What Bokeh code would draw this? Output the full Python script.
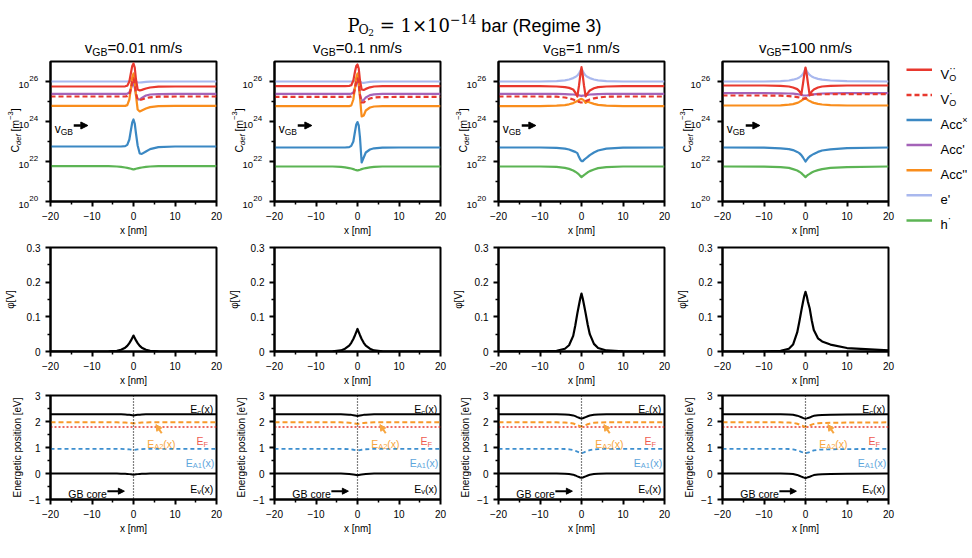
import math
from bokeh.plotting import figure
from bokeh.layouts import column, row
from bokeh.models import (Range1d, FixedTicker, CustomJSTickFormatter, Span, Arrow,
                          NormalHead, LogScale, Plot)
from bokeh.core.properties import value
from bokeh.embed import file_html
from bokeh.resources import INLINE

SANS = "Liberation Sans"
SERIF = "DejaVu Serif"

# ---------------------------------------------------------------- data
velocity_labels = ["0.01", "0.1", "1", "100"]

# position across the grain boundary [nm]
x_nm = [-20, -10, -6, -4, -3, -2, -1.5, -1, -0.6, -0.3, 0,
        0.3, 0.6, 1, 1.5, 2, 3, 4, 6, 10, 20]

# decades labelled on the concentration axis
conc_decades = [20, 22, 24, 26]

# log10 of defect concentrations [m^-3], one row per boundary velocity
log_vo_2 = [
    [25.75, 25.75, 25.75, 25.75, 25.75, 25.76, 25.79, 26.0, 26.45, 26.78, 26.9, 26.7, 26.1, 25.6, 25.55, 25.58, 25.65, 25.7, 25.74, 25.75, 25.75],
    [25.77, 25.77, 25.77, 25.77, 25.77, 25.78, 25.81, 26.05, 26.5, 26.78, 26.85, 26.65, 26.05, 25.6, 25.58, 25.63, 25.71, 25.75, 25.77, 25.77, 25.77],
    [25.77, 25.77, 25.75, 25.72, 25.68, 25.6, 25.45, 25.25, 25.8, 26.3, 26.72, 26.3, 25.8, 25.25, 25.42, 25.55, 25.66, 25.72, 25.75, 25.77, 25.77],
    [25.8, 25.8, 25.78, 25.75, 25.7, 25.62, 25.52, 25.35, 25.9, 26.35, 26.7, 26.35, 25.9, 25.32, 25.5, 25.6, 25.7, 25.75, 25.78, 25.8, 25.8],
]
log_vo_1 = [
    [25.25, 25.25, 25.25, 25.25, 25.25, 25.25, 25.27, 25.35, 25.65, 26.0, 26.15, 25.9, 25.4, 25.1, 25.07, 25.1, 25.17, 25.21, 25.24, 25.25, 25.25],
    [25.23, 25.23, 25.23, 25.23, 25.23, 25.23, 25.25, 25.35, 25.65, 26.0, 26.15, 25.9, 25.3, 24.95, 24.95, 25.05, 25.15, 25.2, 25.22, 25.23, 25.23],
    [25.25, 25.25, 25.24, 25.2, 25.16, 25.1, 25.06, 25.02, 24.98, 24.96, 24.95, 24.96, 24.98, 25.02, 25.06, 25.1, 25.16, 25.2, 25.24, 25.25, 25.25],
    [25.3, 25.3, 25.29, 25.27, 25.25, 25.22, 25.2, 25.17, 25.15, 25.14, 25.14, 25.2, 25.28, 25.32, 25.34, 25.35, 25.36, 25.36, 25.37, 25.37, 25.37],
]
log_acc_x = [
    [22.75, 22.75, 22.75, 22.75, 22.75, 22.77, 22.83, 23.1, 23.6, 23.95, 24.1, 23.9, 23.4, 22.8, 22.4, 22.38, 22.5, 22.62, 22.72, 22.75, 22.75],
    [22.7, 22.7, 22.7, 22.7, 22.7, 22.72, 22.78, 23.0, 23.5, 23.85, 23.97, 23.8, 23.2, 21.95, 22.2, 22.45, 22.6, 22.66, 22.69, 22.7, 22.7],
    [22.7, 22.7, 22.68, 22.64, 22.6, 22.52, 22.48, 22.42, 22.22, 22.1, 22.02, 22.02, 22.08, 22.15, 22.23, 22.32, 22.45, 22.55, 22.64, 22.69, 22.7],
    [22.7, 22.69, 22.66, 22.62, 22.57, 22.48, 22.42, 22.32, 22.2, 22.1, 22.0, 22.08, 22.17, 22.25, 22.32, 22.38, 22.48, 22.55, 22.61, 22.67, 22.7],
]
log_acc_1 = [
    [25.38, 25.38, 25.38, 25.38, 25.38, 25.38, 25.39, 25.45, 25.65, 25.85, 25.9, 25.7, 25.35, 25.1, 25.1, 25.18, 25.3, 25.35, 25.37, 25.38, 25.38],
    [25.38, 25.38, 25.38, 25.38, 25.38, 25.38, 25.39, 25.45, 25.7, 25.95, 26.0, 25.8, 25.35, 25.02, 25.08, 25.2, 25.32, 25.36, 25.38, 25.38, 25.38],
    [25.38, 25.38, 25.38, 25.37, 25.36, 25.35, 25.34, 25.33, 25.31, 25.29, 25.28, 25.29, 25.3, 25.32, 25.33, 25.35, 25.36, 25.37, 25.38, 25.38, 25.38],
    [25.42, 25.42, 25.41, 25.4, 25.39, 25.37, 25.35, 25.33, 25.31, 25.3, 25.3, 25.3, 25.31, 25.32, 25.34, 25.36, 25.38, 25.4, 25.41, 25.42, 25.42],
]
log_acc_2 = [
    [24.78, 24.78, 24.78, 24.78, 24.78, 24.78, 24.82, 25.1, 25.7, 26.2, 26.4, 26.0, 25.3, 24.6, 24.5, 24.55, 24.65, 24.72, 24.77, 24.78, 24.78],
    [24.77, 24.77, 24.77, 24.77, 24.77, 24.77, 24.8, 25.1, 25.7, 26.2, 26.4, 26.0, 25.2, 24.25, 24.3, 24.55, 24.7, 24.75, 24.77, 24.77, 24.77],
    [24.77, 24.77, 24.79, 24.82, 24.86, 24.92, 24.97, 25.02, 25.08, 25.11, 25.13, 25.1, 25.05, 24.93, 25.0, 24.95, 24.88, 24.83, 24.79, 24.77, 24.77],
    [24.8, 24.8, 24.81, 24.84, 24.87, 24.93, 24.98, 25.04, 25.1, 25.14, 25.18, 25.12, 25.07, 25.02, 24.97, 24.93, 24.88, 24.85, 24.82, 24.8, 24.8],
]
log_e = [
    [26.0, 26.0, 26.0, 26.0, 26.0, 26.0, 26.0, 26.02, 26.05, 26.09, 26.12, 26.08, 26.0, 25.96, 25.95, 25.96, 25.98, 25.99, 26.0, 26.0, 26.0],
    [26.0, 26.0, 26.0, 26.0, 26.0, 26.0, 26.0, 26.02, 26.05, 26.09, 26.13, 26.08, 26.0, 25.94, 25.93, 25.95, 25.98, 25.99, 26.0, 26.0, 26.0],
    [26.0, 26.0, 26.02, 26.06, 26.1, 26.17, 26.22, 26.3, 26.4, 26.52, 26.63, 26.52, 26.4, 26.3, 26.22, 26.17, 26.1, 26.06, 26.02, 26.0, 26.0],
    [26.0, 26.0, 26.02, 26.05, 26.09, 26.15, 26.2, 26.28, 26.38, 26.5, 26.65, 26.52, 26.42, 26.33, 26.25, 26.2, 26.13, 26.09, 26.05, 26.02, 26.0],
]
log_h = [
    [21.77, 21.77, 21.77, 21.75, 21.73, 21.7, 21.68, 21.66, 21.64, 21.62, 21.6, 21.62, 21.64, 21.66, 21.68, 21.7, 21.73, 21.75, 21.77, 21.77, 21.77],
    [21.75, 21.75, 21.75, 21.73, 21.71, 21.67, 21.65, 21.62, 21.59, 21.57, 21.55, 21.57, 21.59, 21.62, 21.65, 21.67, 21.71, 21.73, 21.75, 21.75, 21.75],
    [21.75, 21.75, 21.73, 21.68, 21.63, 21.55, 21.49, 21.42, 21.35, 21.28, 21.22, 21.27, 21.32, 21.38, 21.46, 21.52, 21.6, 21.67, 21.72, 21.75, 21.75],
    [21.75, 21.74, 21.72, 21.68, 21.62, 21.55, 21.49, 21.42, 21.34, 21.28, 21.22, 21.28, 21.33, 21.38, 21.45, 21.5, 21.57, 21.62, 21.68, 21.72, 21.75],
]

# electrostatic potential [V]
phi = [
    [0, 0, 0.0005, 0.002, 0.005, 0.011, 0.016, 0.024, 0.032, 0.039, 0.046, 0.039, 0.032, 0.024, 0.016, 0.011, 0.005, 0.002, 0.0005, 0, 0],
    [0, 0, 0.0007, 0.003, 0.008, 0.017, 0.025, 0.036, 0.047, 0.056, 0.065, 0.056, 0.047, 0.036, 0.025, 0.017, 0.008, 0.003, 0.0007, 0, 0],
    [0, 0.0005, 0.002, 0.008, 0.018, 0.045, 0.075, 0.11, 0.135, 0.153, 0.167, 0.153, 0.135, 0.11, 0.077, 0.05, 0.022, 0.01, 0.003, 0.0005, 0],
    [0, 0.0003, 0.002, 0.008, 0.02, 0.055, 0.085, 0.118, 0.143, 0.16, 0.172, 0.16, 0.143, 0.125, 0.09, 0.062, 0.038, 0.029, 0.02, 0.01, 0.003],
]

# bulk energy levels [eV]; bands bend by -phi
E_C0 = 2.28
E_A2_0 = 1.97
E_F = 1.79
E_A1_0 = 0.95
E_V0 = 0.0

# ---------------------------------------------------------------- style
RED = "#e8382e"
BLUE = "#3b88c3"
PURPLE = "#a463b8"
ORANGE = "#f98d1c"
LAVENDER = "#a9b8ee"
GREEN = "#5cb454"
EA2_LINE = "#f99a2a"
EA2_TEXT = "#f7a640"
EF_TEXT = "#ef5b50"
EA1_LINE = "#3d8fcf"
EA1_TEXT = "#5ea6dc"

SANS_W = {' ': .278, 'A': .667, 'B': .667, 'C': .722, 'E': .667, 'F': .611, 'G': .778,
          'O': .778, 'V': .667, 'R': .722, 'a': .556, 'b': .556, 'c': .5, 'd': .556,
          'e': .556, 'f': .278, 'g': .556, 'h': .556, 'i': .222, 'm': .833, 'n': .556,
          'o': .556, 'r': .333, 's': .5, 't': .278, 'v': .5, 'x': .5, '(': .333, ')': .333,
          '[': .278, ']': .278, '=': .584, '.': .278, '/': .278, '\u2212': .584,
          '\u00d7': .584, "'": .191, '\u00b7': .278}
SERIF_W = {'P': .603, 'O': .787, ' ': .318, '=': .838, '\u00d7': .838, '\u2212': .838}

FRAME_W = 166
XPX = 40.0 / FRAME_W   # nm per pixel
DEC_PX = 1 / 20.0      # decades per pixel on the concentration axis
CAN_UNALIGN = "frame_align" in Plot.properties()


def text_width(s, size, font=SANS):
    table = SERIF_W if font == SERIF else SANS_W
    dflt = 0.636 if font == SERIF else 0.556
    return sum(table.get(ch, dflt) for ch in s) * size


def part(txt, size, rise=0, font=SANS, style="normal"):
    return (txt, size, rise, font, style)


def run_text(p, x0, y0, parts, color, px_x, px_y, log_y=False):
    """Lay a run of text pieces out left to right (rise in pixels, upward)."""
    x = x0
    for txt, size, rise, font, style in parts:
        body = txt.lstrip(" ")
        x += text_width(txt[:len(txt) - len(body)], size, font) * px_x
        if log_y:
            y = 10 ** (math.log10(y0) + rise * px_y)
        else:
            y = y0 + rise * px_y
        p.text(x=[x], y=[y], text=[body], text_font=value(font),
               text_font_size=f"{size}px", text_font_style=style, text_color=color,
               text_align="left", text_baseline="alphabetic")
        x += text_width(body, size, font) * px_x


def run_width(parts):
    return sum(text_width(t, s, f) for t, s, _, f, _ in parts)


X_FMT = CustomJSTickFormatter(code="return tick < 0 ? '\\u2212' + Math.abs(tick) : String(tick);")
NO_LABEL = CustomJSTickFormatter(code="return '';")
PHI_FMT = CustomJSTickFormatter(code="return Math.abs(tick) < 1e-9 ? '0' : tick.toFixed(1);")

BASE = dict(output_backend="svg", toolbar_location=None,
            background_fill_color="white", border_fill_color="white")


def blank(width, height, x_range, y_range):
    """Axis-free canvas used for titles, axis annotations and the key."""
    b = figure(width=width, height=height, x_range=x_range, y_range=y_range,
               x_axis_location=None, y_axis_location=None, min_border=0, **BASE)
    b.outline_line_color = None
    b.xgrid.visible = False
    b.ygrid.visible = False
    if CAN_UNALIGN:
        # keep its own full-size frame instead of snapping to the panels' frames
        b.frame_align = False
    return b


def panel(width, left, height, top, bottom, y_range, y_type="linear"):
    p = figure(width=width, height=height, x_range=Range1d(-20, 20), y_range=y_range,
               y_axis_type=y_type, min_border_left=left, min_border_right=8,
               min_border_top=top, min_border_bottom=bottom, **BASE)
    p.xgrid.visible = False
    p.ygrid.visible = False
    p.outline_line_color = "black"
    p.outline_line_width = 2
    p.outline_line_alpha = 1
    for ax in p.axis:
        ax.axis_line_width = 2
        ax.axis_line_color = "black"
        ax.major_tick_line_width = 2
        ax.minor_tick_line_width = 1.5
        ax.major_tick_in = 0
        ax.major_tick_out = 5
        ax.minor_tick_in = 0
        ax.minor_tick_out = 3
        ax.major_label_text_font = SANS
        ax.major_label_text_font_size = "10px"
        ax.major_label_text_color = "black"
        ax.major_label_standoff = 5
        ax.axis_label_text_font = SANS
        ax.axis_label_text_font_size = "10px"
        ax.axis_label_text_font_style = "normal"
        ax.axis_label_text_color = "black"
    p.xaxis.ticker = FixedTicker(ticks=[-20, -10, 0, 10, 20], minor_ticks=[-15, -5, 5, 15])
    p.xaxis.formatter = X_FMT
    p.xaxis.axis_label = "x [nm]"
    p.xaxis.axis_label_standoff = 2
    return p


# ---------------------------------------------------------------- header
header = blank(972, 56, Range1d(0, 972), Range1d(56, 0))
title_parts = [part("P", 18, 0, SERIF), part("O", 12.5, -4, SERIF), part("2", 9, -7, SERIF),
               part(" = 1\u00d710", 18, 0, SERIF), part("\u221214", 12.5, 7, SERIF),
               part(" bar (Regime 3)", 18, 0, SANS)]
run_text(header, 474 - run_width(title_parts) / 2, 25, title_parts, "black", 1, -1)

frame_centers = [133, 357, 581, 805]
for cx, v in zip(frame_centers, velocity_labels):
    parts = [part("v", 15), part("GB", 10.5, -4), part(f"={v} nm/s", 15)]
    run_text(header, cx - run_width(parts) / 2, 47, parts, "black", 1, -1)

# ---------------------------------------------------------------- rows
species = [
    (log_e, LAVENDER, "solid"),
    (log_h, GREEN, "solid"),
    (log_acc_x, BLUE, "solid"),
    (log_acc_1, PURPLE, "solid"),
    (log_acc_2, ORANGE, "solid"),
    (log_vo_1, RED, "5 3"),
    (log_vo_2, RED, "solid"),
]

# rotated axis title C_def [m^-3]: (text, size, offset across the baseline, style)
CDEF_PARTS = [("C", 10.5, 0, "normal"), ("def", 7.5, 3.5, "italic"), (" [m", 10.5, 0, "normal"),
              ("\u22123", 7.5, -4, "normal"), ("]", 10.5, 0, "normal")]

top_cells, mid_row, low_row = [], [], []
for i in range(4):
    # strip left of the concentration panel, sharing its log scale:
    # its frame spans 10^18 .. 10^27.25 over the full 185 px
    lab = blank(41, 185, Range1d(0, 41), Range1d(10 ** 18, 10 ** 27.25))
    lab.y_scale = LogScale()
    for d in conc_decades:
        lab.text(x=[28.5], y=[10 ** (d - 3.4 * DEC_PX)], text=["10"], text_font=value(SANS),
                 text_font_size="9.5px", text_color="black", text_align="right",
                 text_baseline="alphabetic")
        lab.text(x=[28.8], y=[10 ** (d + 2.6 * DEC_PX)], text=[str(d)], text_font=value(SANS),
                 text_font_size="8px", text_color="black", text_align="left",
                 text_baseline="alphabetic")
    ypx = 152.0
    for txt, size, shift, style in CDEF_PARTS:
        body = txt.lstrip(" ")
        ypx -= text_width(txt[:len(txt) - len(body)], size)
        lab.text(x=[14 + shift], y=[10 ** (27 - (ypx - 61) * DEC_PX)], text=[body],
                 angle=math.pi / 2, text_font=value(SANS), text_font_size=f"{size}px",
                 text_font_style=style, text_color="black", text_align="left",
                 text_baseline="middle")
        ypx -= text_width(body, size)

    # concentrations
    p = panel(183, 9, 185, 5, 40, Range1d(1e20, 1e27), "log")
    p.yaxis.ticker = FixedTicker(ticks=[10.0 ** d for d in conc_decades],
                                 minor_ticks=[1e21, 1e23, 1e25])
    p.yaxis.formatter = NO_LABEL
    p.yaxis.major_label_standoff = 0
    for arr, col, dash in species:
        p.line(x=x_nm, y=[10 ** v for v in arr[i]], line_color=col, line_width=2.2,
               line_dash=dash, line_join="round")
    run_text(p, -19.0, 10 ** 23.62, [part("v", 12), part("GB", 8.5, -3)], "black",
             XPX, DEC_PX, log_y=True)
    p.add_layout(Arrow(x_start=-14.4, y_start=10 ** 23.8, x_end=-11.0, y_end=10 ** 23.8,
                       line_width=2.5, line_color="black",
                       end=NormalHead(size=7, fill_color="black", line_color="black")))
    top_cells.extend([lab, p])

    # potential
    q = panel(224, 50, 150, 6, 40, Range1d(0, 0.3))
    q.yaxis.ticker = FixedTicker(ticks=[0, 0.1, 0.2, 0.3], minor_ticks=[0.05, 0.15, 0.25])
    q.yaxis.formatter = PHI_FMT
    q.yaxis.axis_label = "\u03c6[V]"
    q.yaxis.axis_label_standoff = 8
    q.line(x=x_nm, y=phi[i], line_color="black", line_width=2.2, line_join="round")
    mid_row.append(q)

    # band diagram
    r = panel(224, 50, 167, 4, 59, Range1d(-1, 3))
    r.yaxis.ticker = FixedTicker(ticks=[-1, 0, 1, 2, 3], minor_ticks=[-0.5, 0.5, 1.5, 2.5])
    r.yaxis.formatter = X_FMT
    r.yaxis.axis_label = "Energetic position [eV]"
    r.yaxis.axis_label_standoff = 3
    r.add_layout(Span(location=0, dimension="height", line_color="black",
                      line_width=1.2, line_dash="1 2"))
    ec = [E_C0 - v for v in phi[i]]
    ea2 = [E_A2_0 - v for v in phi[i]]
    ea1 = [E_A1_0 - v for v in phi[i]]
    ev = [E_V0 - v for v in phi[i]]
    r.line(x=x_nm, y=ec, line_color="black", line_width=2, line_join="round")
    r.line(x=x_nm, y=ev, line_color="black", line_width=2, line_join="round")
    r.line(x=[x_nm[0], x_nm[-1]], y=[E_F, E_F], line_color=RED, line_width=1.6, line_dash="2 2")
    r.line(x=x_nm, y=ea2, line_color=EA2_LINE, line_width=2, line_dash="5 3")
    r.line(x=x_nm, y=ea1, line_color=EA1_LINE, line_width=1.8, line_dash="4 3")
    ey = 4.0 / 104
    run_text(r, 13.7, 2.47, [part("E", 10.5), part("c", 7.5, -3), part("(x)", 10.5)], "black", XPX, ey)
    run_text(r, 15.2, 1.24, [part("E", 10.5), part("F", 7.5, -3)], EF_TEXT, XPX, ey)
    run_text(r, 3.3, 1.15, [part("E", 10.5), part("A2", 7.5, -3), part("(x)", 10.5)], EA2_TEXT, XPX, ey)
    run_text(r, 12.6, 0.41, [part("E", 10.5), part("A1", 7.5, -3), part("(x)", 10.5)], EA1_TEXT, XPX, ey)
    run_text(r, 13.7, -0.58, [part("E", 10.5), part("v", 7.5, -3), part("(x)", 10.5)], "black", XPX, ey)
    run_text(r, -15.7, -0.77, [part("GB core", 10.5)], "black", XPX, ey)
    r.add_layout(Arrow(x_start=-6.3, y_start=-0.68, x_end=-2.2, y_end=-0.68,
                       line_width=2, line_color="black",
                       end=NormalHead(size=6, fill_color="black", line_color="black")))
    r.add_layout(Arrow(x_start=6.8, y_start=1.55, x_end=5.4, y_end=1.88,
                       line_width=2, line_color=EA2_TEXT,
                       end=NormalHead(size=6, fill_color=EA2_TEXT, line_color=EA2_TEXT)))
    low_row.append(r)

# ---------------------------------------------------------------- key
leg = blank(76, 185, Range1d(0, 76), Range1d(185, 0))
legend_rows = [
    (RED, "solid", [("V", 13, 0), ("O", 9, -4), ("\u00b7\u00b7", 10, 6)]),
    (RED, "5 3", [("V", 13, 0), ("O", 9, -4), ("\u00b7", 10, 6)]),
    (BLUE, "solid", [("Acc", 13, 0), ("\u00d7", 9, 5)]),
    (PURPLE, "solid", [("Acc'", 13, 0)]),
    (ORANGE, "solid", [("Acc''", 13, 0)]),
    (LAVENDER, "solid", [("e'", 13, 0)]),
    (GREEN, "solid", [("h", 13, 0), ("\u00b7", 10, 6)]),
]
for k, (col, dash, pieces) in enumerate(legend_rows):
    yy = 13.3 + 25.1 * k
    leg.line(x=[10, 35.5], y=[yy, yy], line_color=col, line_width=2.5, line_dash=dash)
    xx = 44
    for txt, size, rise in pieces:
        leg.text(x=[xx], y=[yy + 4.5 - rise], text=[txt], text_font=value(SANS),
                 text_font_size=f"{size}px", text_color="black",
                 text_align="left", text_baseline="alphabetic")
        # the V's sub- and superscripts stack in the same column
        if txt != "O":
            xx += text_width(txt, size)

layout = column(header,
                row(*top_cells, leg),
                row(*mid_row),
                row(*low_row))

open("out.html", "w").write(file_html(layout, INLINE, "Regime 3 profiles"))
